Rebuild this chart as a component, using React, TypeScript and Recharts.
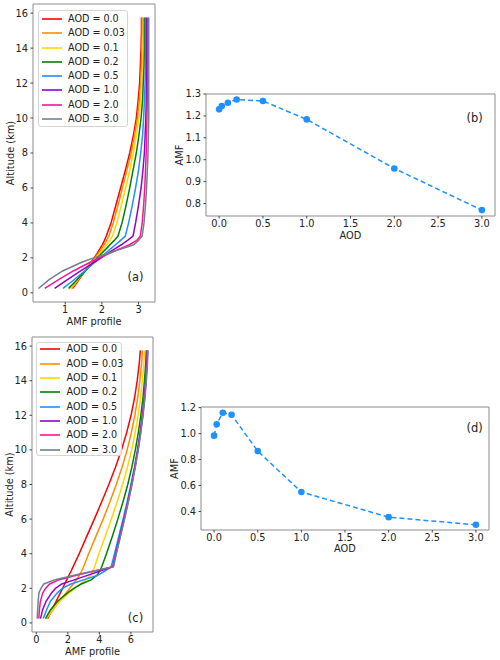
import { Label, Line, LineChart, ReferenceArea, XAxis, YAxis } from 'recharts';

const FONT = "'DejaVu Sans', sans-serif";

// altitude levels (km) shared by every profile
const ALT = [0.25, 0.75, 1.25, 1.75, 2.0, 2.25, 2.5, 2.75, 3.0, 3.25, 4, 5, 6, 7, 8, 9, 10, 11, 12, 13, 14, 15, 15.75];

const AOD_NAMES = ['0.0', '0.03', '0.1', '0.2', '0.5', '1.0', '2.0', '3.0'];
const COLORS = ['#ff0000', '#ff8c00', '#ffd700', '#008000', '#1e90ff', '#9400d3', '#ff1493', '#708090'];

// panel (a) AMF profiles
const A_00 = [1.20, 1.37, 1.54, 1.71, 1.79, 1.87, 1.94, 2.01, 2.07, 2.12, 2.25, 2.38, 2.51, 2.64, 2.76, 2.86, 2.94, 2.99, 3.03, 3.05, 3.07, 3.08, 3.08];
const A_003 = [1.17, 1.35, 1.53, 1.72, 1.81, 1.90, 1.98, 2.06, 2.13, 2.19, 2.31, 2.44, 2.56, 2.68, 2.80, 2.89, 2.97, 3.02, 3.06, 3.08, 3.09, 3.10, 3.10];
const A_01 = [1.14, 1.34, 1.54, 1.74, 1.84, 1.94, 2.04, 2.13, 2.22, 2.29, 2.41, 2.53, 2.65, 2.76, 2.86, 2.94, 3.01, 3.06, 3.09, 3.11, 3.12, 3.13, 3.13];
const A_02 = [1.09, 1.32, 1.55, 1.77, 1.88, 1.99, 2.11, 2.22, 2.34, 2.44, 2.55, 2.66, 2.76, 2.85, 2.94, 3.01, 3.07, 3.11, 3.13, 3.15, 3.16, 3.16, 3.16];
const A_05 = [0.94, 1.24, 1.53, 1.81, 1.95, 2.09, 2.23, 2.37, 2.51, 2.64, 2.73, 2.83, 2.92, 3.00, 3.06, 3.11, 3.14, 3.16, 3.18, 3.19, 3.19, 3.19, 3.19];
const A_10 = [0.71, 1.06, 1.42, 1.80, 1.98, 2.16, 2.34, 2.53, 2.70, 2.85, 2.92, 3.00, 3.07, 3.12, 3.16, 3.18, 3.20, 3.21, 3.22, 3.22, 3.22, 3.22, 3.22];
const A_20 = [0.44, 0.82, 1.22, 1.68, 1.93, 2.20, 2.47, 2.75, 2.95, 3.05, 3.10, 3.14, 3.17, 3.19, 3.21, 3.22, 3.23, 3.24, 3.25, 3.25, 3.25, 3.25, 3.25];
const A_30 = [0.27, 0.56, 0.93, 1.45, 1.78, 2.16, 2.52, 2.87, 3.00, 3.10, 3.15, 3.19, 3.22, 3.24, 3.26, 3.27, 3.28, 3.28, 3.28, 3.28, 3.28, 3.28, 3.28];

// panel (c) AMF profiles
const C_00 = [0.72, 0.99, 1.26, 1.53, 1.67, 1.80, 1.94, 2.07, 2.21, 2.34, 2.72, 3.20, 3.68, 4.15, 4.60, 5.02, 5.40, 5.73, 6.01, 6.23, 6.40, 6.53, 6.60];
const C_003 = [0.68, 1.05, 1.45, 1.90, 2.12, 2.35, 2.55, 2.73, 2.88, 3.00, 3.32, 3.78, 4.24, 4.67, 5.07, 5.44, 5.76, 6.03, 6.25, 6.43, 6.57, 6.68, 6.73];
const C_01 = [0.63, 1.00, 1.50, 2.10, 2.45, 2.78, 3.15, 3.45, 3.58, 3.70, 3.97, 4.37, 4.76, 5.13, 5.47, 5.78, 6.05, 6.27, 6.46, 6.61, 6.73, 6.82, 6.87];
const C_02 = [0.58, 0.90, 1.35, 2.00, 2.38, 2.85, 3.50, 3.85, 4.03, 4.15, 4.45, 4.82, 5.17, 5.50, 5.80, 6.06, 6.28, 6.47, 6.63, 6.76, 6.86, 6.94, 6.98];
const C_05 = [0.44, 0.65, 0.90, 1.35, 1.65, 2.20, 3.05, 3.90, 4.35, 4.75, 4.96, 5.23, 5.50, 5.76, 6.00, 6.22, 6.41, 6.58, 6.72, 6.84, 6.93, 7.00, 7.03];
const C_10 = [0.27, 0.40, 0.62, 0.98, 1.22, 1.62, 2.45, 3.25, 4.05, 4.85, 5.04, 5.30, 5.56, 5.81, 6.04, 6.25, 6.44, 6.60, 6.74, 6.86, 6.95, 7.02, 7.05];
const C_20 = [0.16, 0.20, 0.26, 0.42, 0.60, 0.85, 1.45, 2.55, 3.70, 4.88, 5.06, 5.32, 5.58, 5.82, 6.05, 6.26, 6.45, 6.61, 6.75, 6.87, 6.96, 7.03, 7.06];
const C_30 = [0.06, 0.09, 0.12, 0.17, 0.30, 0.48, 1.20, 2.40, 3.62, 4.90, 5.08, 5.34, 5.60, 5.84, 6.07, 6.28, 6.47, 6.63, 6.77, 6.89, 6.98, 7.05, 7.08];

const PROFILES_A = [A_00, A_003, A_01, A_02, A_05, A_10, A_20, A_30];
const PROFILES_C = [C_00, C_003, C_01, C_02, C_05, C_10, C_20, C_30];

// panels (b) and (d): total AMF vs AOD
const AOD = [0, 0.03, 0.1, 0.2, 0.5, 1.0, 2.0, 3.0];
const AMF_B = [1.230, 1.245, 1.260, 1.275, 1.268, 1.184, 0.960, 0.770];
const AMF_D = [0.984, 1.072, 1.161, 1.145, 0.865, 0.550, 0.356, 0.297];

const ALT_TICKS = [0, 2, 4, 6, 8, 10, 12, 14, 16];
const A_X_TICKS = [1, 2, 3];
const C_X_TICKS = [0, 2, 4, 6];
const AOD_TICKS = [0, 0.5, 1, 1.5, 2, 2.5, 3];
const B_Y_TICKS = [0.8, 0.9, 1.0, 1.1, 1.2, 1.3];
const D_Y_TICKS = [0.4, 0.6, 0.8, 1.0, 1.2];

const BLUE = '#1e90ff';
const FRAME = '#8c8c8c';
const TEXT = '#222';
const tickStyle = { fontSize: 9.8, fill: TEXT, fontFamily: FONT };
const labelStyle = { fontSize: 9.8, fill: TEXT, fontFamily: FONT };

const profileRows = (profiles: number[][]) =>
  ALT.map((alt, i) => {
    const row: Record<string, number> = { alt };
    profiles.forEach((p, k) => {
      row['s' + k] = p[i];
    });
    return row;
  });

const amfRows = (amf: number[]) => AOD.map((aod, i) => ({ aod, amf: amf[i] }));

const fix1 = (v: number) => v.toFixed(1);

function LegendBox({ left, top, width, height }: { left: number; top: number; width: number; height: number }) {
  const step = 14.3;
  const first = (height - 7 * step) / 2;
  return (
    <div
      style={{
        position: 'absolute',
        left,
        top,
        width,
        height,
        border: '1px solid #d4d4d4',
        borderRadius: 3,
        background: 'rgba(255,255,255,0.85)',
        boxSizing: 'border-box',
      }}
    >
      {AOD_NAMES.map((name, i) => (
        <div key={name} style={{ position: 'absolute', left: 0, top: first + i * step - 7, height: 14, width: '100%' }}>
          <svg width={24} height={14} style={{ position: 'absolute', left: 3, top: 0 }}>
            <line x1={0} x2={20} y1={7} y2={7} stroke={COLORS[i]} strokeWidth={1.6} />
          </svg>
          <span
            style={{
              position: 'absolute',
              left: 29.5,
              top: 0,
              lineHeight: '14px',
              fontSize: 9.6,
              color: TEXT,
              fontFamily: FONT,
              whiteSpace: 'nowrap',
            }}
          >
            {'AOD = ' + name}
          </span>
        </div>
      ))}
    </div>
  );
}

function Tag({ text, cx, cy }: { text: string; cx: number; cy: number }) {
  return (
    <div
      style={{
        position: 'absolute',
        left: cx,
        top: cy,
        transform: 'translate(-50%, -50%)',
        fontSize: 11.5,
        lineHeight: 1,
        color: TEXT,
        fontFamily: FONT,
      }}
    >
      {text}
    </div>
  );
}

function ProfileChart(props: {
  profiles: number[][];
  xDomain: [number, number];
  xTicks: number[];
  margin: { top: number; right: number; left: number; bottom: number };
  yWidth: number;
  xHeight: number;
  yLabelOffset: number;
}) {
  const { profiles, xDomain, xTicks, margin, yWidth, xHeight, yLabelOffset } = props;
  const yDomain: [number, number] = [-0.525, 16.525];
  return (
    <LineChart layout="vertical" width={170} height={330} data={profileRows(profiles)} margin={margin}>
      <XAxis
        type="number"
        domain={xDomain}
        ticks={xTicks}
        allowDataOverflow
        interval={0}
        axisLine={false}
        tickSize={2.5}
        tickMargin={1.5}
        tickLine={{ stroke: '#444' }}
        tick={tickStyle}
        height={xHeight}
      >
        <Label value="AMF profile" position="insideTop" offset={16.2} style={labelStyle} />
      </XAxis>
      <YAxis
        type="number"
        dataKey="alt"
        domain={yDomain}
        ticks={ALT_TICKS}
        allowDataOverflow
        reversed
        interval={0}
        axisLine={false}
        tickSize={2.5}
        tickMargin={2.5}
        tickLine={{ stroke: '#444' }}
        tick={tickStyle}
        width={yWidth}
      >
        <Label
          value="Altitude (km)"
          angle={-90}
          position="insideLeft"
          offset={yLabelOffset}
          style={{ ...labelStyle, textAnchor: 'middle' }}
        />
      </YAxis>
      <ReferenceArea
        x1={xDomain[0]}
        x2={xDomain[1]}
        y1={yDomain[0]}
        y2={yDomain[1]}
        fill="none"
        stroke={FRAME}
        strokeWidth={1}
      />
      {profiles.map((_, k) => (
        <Line
          key={k}
          type="linear"
          dataKey={'s' + k}
          stroke={COLORS[k]}
          strokeWidth={1.5}
          dot={false}
          isAnimationActive={false}
        />
      ))}
    </LineChart>
  );
}

function AmfChart(props: {
  amf: number[];
  width: number;
  height: number;
  yDomain: [number, number];
  yTicks: number[];
  margin: { top: number; right: number; left: number; bottom: number };
  yWidth: number;
  xHeight: number;
  yLabelOffset: number;
  xLabelOffset: number;
}) {
  const { amf, width, height, yDomain, yTicks, margin, yWidth, xHeight, yLabelOffset, xLabelOffset } = props;
  const xDomain: [number, number] = [-0.15, 3.15];
  return (
    <LineChart width={width} height={height} data={amfRows(amf)} margin={margin}>
      <XAxis
        type="number"
        dataKey="aod"
        domain={xDomain}
        ticks={AOD_TICKS}
        allowDataOverflow
        interval={0}
        axisLine={false}
        tickSize={2.5}
        tickMargin={1.5}
        tickLine={{ stroke: '#444' }}
        tick={tickStyle}
        tickFormatter={fix1}
        height={xHeight}
      >
        <Label value="AOD" position="insideTop" offset={xLabelOffset} style={labelStyle} />
      </XAxis>
      <YAxis
        type="number"
        domain={yDomain}
        ticks={yTicks}
        allowDataOverflow
        interval={0}
        axisLine={false}
        tickSize={2.5}
        tickMargin={2.5}
        tickLine={{ stroke: '#444' }}
        tick={tickStyle}
        tickFormatter={fix1}
        width={yWidth}
      >
        <Label
          value="AMF"
          angle={-90}
          position="insideLeft"
          offset={yLabelOffset}
          style={{ ...labelStyle, textAnchor: 'middle' }}
        />
      </YAxis>
      <ReferenceArea
        x1={xDomain[0]}
        x2={xDomain[1]}
        y1={yDomain[0]}
        y2={yDomain[1]}
        fill="none"
        stroke={FRAME}
        strokeWidth={1}
      />
      <Line
        type="linear"
        dataKey="amf"
        stroke={BLUE}
        strokeWidth={1.5}
        strokeDasharray="5 3"
        dot={{ r: 3.3, fill: BLUE, stroke: BLUE, strokeWidth: 0 }}
        isAnimationActive={false}
      />
    </LineChart>
  );
}

export default function App() {
  return (
    <div
      style={{
        position: 'absolute',
        left: 0,
        top: 0,
        width: 500,
        height: 660,
        background: '#fff',
        fontFamily: FONT,
        overflow: 'hidden',
      }}
    >
      <div style={{ position: 'absolute', left: 0, top: 0 }}>
        <ProfileChart
          profiles={PROFILES_A}
          xDomain={[0.12, 3.45]}
          xTicks={A_X_TICKS}
          margin={{ top: 4, right: 15, left: 0, bottom: 0 }}
          yWidth={33}
          xHeight={28}
          yLabelOffset={11}
        />
        <LegendBox left={37.5} top={9.5} width={90} height={117} />
      </div>
      <div style={{ position: 'absolute', left: 170, top: 80 }}>
        <AmfChart
          amf={AMF_B}
          width={330}
          height={180}
          yDomain={[0.743, 1.3]}
          yTicks={B_Y_TICKS}
          margin={{ top: 14, right: 5, left: 0, bottom: 0 }}
          yWidth={36}
          xHeight={44}
          yLabelOffset={10}
          xLabelOffset={15.6}
        />
      </div>
      <div style={{ position: 'absolute', left: 0, top: 330 }}>
        <ProfileChart
          profiles={PROFILES_C}
          xDomain={[-0.27, 7.4]}
          xTicks={C_X_TICKS}
          margin={{ top: 7, right: 17, left: 0, bottom: 0 }}
          yWidth={32}
          xHeight={28}
          yLabelOffset={10}
        />
        <LegendBox left={36} top={11.5} width={86} height={114} />
      </div>
      <div style={{ position: 'absolute', left: 170, top: 400 }}>
        <AmfChart
          amf={AMF_D}
          width={330}
          height={170}
          yDomain={[0.257, 1.205]}
          yTicks={D_Y_TICKS}
          margin={{ top: 7, right: 11, left: 0, bottom: 0 }}
          yWidth={31}
          xHeight={40}
          yLabelOffset={4.5}
          xLabelOffset={15}
        />
      </div>
      <Tag text="(a)" cx={135.5} cy={278} />
      <Tag text="(b)" cx={474.7} cy={119.3} />
      <Tag text="(c)" cx={135.5} cy={619} />
      <Tag text="(d)" cx={474.7} cy={429} />
    </div>
  );
}
